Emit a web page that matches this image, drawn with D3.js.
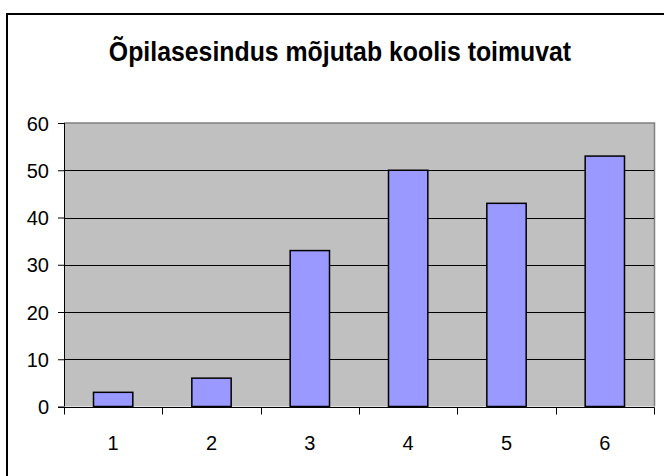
<!DOCTYPE html>
<html>
<head>
<meta charset="utf-8">
<script src="https://cdn.jsdelivr.net/npm/d3@7"></script>
<style>
  html, body { margin: 0; padding: 0; background: #fff; }
  svg { display: block; }
</style>
</head>
<body>
<div id="chart"></div>
<script>
  // andmed
  const categories = ['1', '2', '3', '4', '5', '6'];
  const values = [3, 6, 33, 50, 43, 53];
  const yTicks = [0, 10, 20, 30, 40, 50, 60];
  const title = 'Õpilasesindus mõjutab koolis toimuvat';

  const W = 664, H = 476;
  const plot = { left: 64, top: 123, right: 654, bottom: 406.5 };
  const font = '"Liberation Sans", Arial, sans-serif';

  const svg = d3.select('#chart').append('svg')
    .attr('width', W).attr('height', H);

  // välimine raam (paremal ja all jääb pildist välja)
  svg.append('path')
    .attr('d', `M7,${H + 5}V14H${W + 5}`)
    .attr('fill', 'none')
    .attr('stroke', '#000')
    .attr('stroke-width', 2);

  // pealkiri: kõrgem ja kitsam kiri nagu originaalis
  svg.append('text')
    .attr('transform', 'translate(340,61) scale(0.92,1)')
    .attr('text-anchor', 'middle')
    .attr('font-family', font)
    .attr('font-weight', 'bold')
    .attr('font-size', 27)
    .attr('fill', '#000')
    .text(title);

  const x = d3.scaleBand()
    .domain(categories)
    .range([plot.left, plot.right])
    .paddingInner(0.6).paddingOuter(0.3);

  const xb = d3.scaleBand().domain(categories).range([plot.left, plot.right]);

  const y = d3.scaleLinear().domain([0, 60]).range([plot.bottom, plot.top]);

  // joonise ala
  svg.append('rect')
    .attr('x', plot.left).attr('y', plot.top)
    .attr('width', plot.right - plot.left)
    .attr('height', plot.bottom - plot.top)
    .attr('fill', '#c0c0c0');

  svg.append('path')
    .attr('d', `M${plot.left},${plot.top}H${plot.right + 0.5}V${plot.bottom}`)
    .attr('fill', 'none')
    .attr('stroke', '#808080')
    .attr('stroke-width', 1.5);

  // ruudustik
  svg.append('g')
    .selectAll('line')
    .data(yTicks.filter(d => d > 0 && d < 60))
    .join('line')
    .attr('x1', plot.left).attr('x2', plot.right)
    .attr('y1', d => Math.round(y(d)) + 0.5).attr('y2', d => Math.round(y(d)) + 0.5)
    .attr('stroke', '#000');

  // tulbad
  svg.append('g')
    .selectAll('rect')
    .data(values)
    .join('rect')
    .attr('x', (d, i) => x(categories[i]))
    .attr('y', d => y(d))
    .attr('width', x.bandwidth())
    .attr('height', d => y(0) - y(d))
    .attr('fill', '#9999ff')
    .attr('stroke', '#000')
    .attr('stroke-width', 1.5);

  // Y-telg
  const yg = svg.append('g')
    .attr('transform', `translate(${plot.left},0)`)
    .call(d3.axisLeft(y).tickValues(yTicks).tickSize(6).tickPadding(9));
  yg.select('.domain').attr('stroke', '#000').attr('d', `M0.5,${plot.top}V${plot.bottom}`);
  yg.selectAll('line').attr('stroke', '#000');
  yg.selectAll('text')
    .attr('fill', '#000')
    .attr('font-size', 20)
    .attr('font-family', font)
    .attr('dy', '0.35em');

  // X-telg
  const xg = svg.append('g')
    .attr('transform', `translate(0,${Math.round(plot.bottom) + 0.5})`);
  xg.append('line')
    .attr('x1', plot.left - 6).attr('x2', plot.right + 0.5)
    .attr('stroke', '#000');
  xg.selectAll('.tick')
    .data(categories.concat(['end']))
    .join('line')
    .attr('class', 'tick')
    .attr('x1', (d, i) => Math.round(i < categories.length ? xb(d) : plot.right) + 0.5)
    .attr('x2', (d, i) => Math.round(i < categories.length ? xb(d) : plot.right) + 0.5)
    .attr('y1', 0).attr('y2', 7)
    .attr('stroke', '#000');
  xg.selectAll('text')
    .data(categories)
    .join('text')
    .attr('x', d => xb(d) + xb.bandwidth() / 2)
    .attr('y', 42)
    .attr('text-anchor', 'middle')
    .attr('fill', '#000')
    .attr('font-size', 20)
    .attr('font-family', font)
    .text(d => d);
</script>
</body>
</html>
